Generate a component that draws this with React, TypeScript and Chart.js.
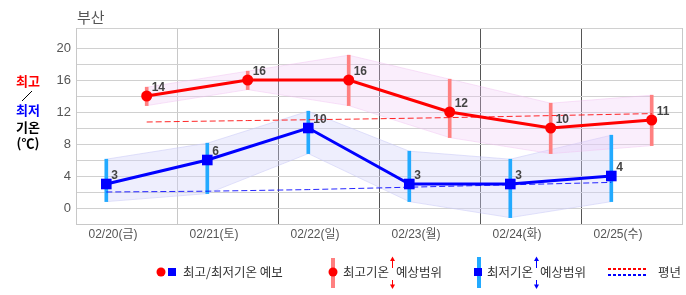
import React, { useEffect, useRef } from 'react';
import { Chart, registerables } from 'chart.js';

Chart.register(...registerables);

// ---- data ----
const dayLabels = ['02/20(금)', '02/21(토)', '02/22(일)', '02/23(월)', '02/24(화)', '02/25(수)'];
const highTemps = [14, 16, 16, 12, 10, 11];
const lowTemps = [3, 6, 10, 3, 3, 4];
const highRangeMax = [15.1, 17.1, 19.1, 16.1, 13.1, 14.1];
const highRangeMin = [12.8, 14.8, 12.8, 8.8, 6.8, 7.8];
const lowRangeMax = [6.1, 8.1, 12.1, 7.1, 6.1, 9.1];
const lowRangeMin = [0.8, 1.8, 6.8, 0.8, -1.2, 0.8];
const highNormal = [10.75, 10.93, 11.1, 11.3, 11.55, 11.8];
const lowNormal = [2.0, 2.1, 2.3, 2.6, 2.9, 3.2];
const yGridValues = [-2, 0, 2, 4, 6, 8, 10, 12, 14, 16, 18, 20, 22.5];
const yLabelValues = [0, 4, 8, 12, 16, 20];
const xGridValues = [0, 1, 2, 3, 4, 5, 6];

const HIGH_POS = 0.7;
const LOW_POS = 0.3;

const LATIN = '"Liberation Sans", "Noto Sans CJK KR", sans-serif';
const KR = '"Noto Sans CJK KR", sans-serif';

const pts = (vals: number[], off: number) => vals.map((v, i) => ({ x: i + off, y: v }));
const rangePts = (lo: number[], hi: number[], off: number) =>
  lo.map((v, i) => ({ x: i + off, y: [v, hi[i]] }));

const decorPlugin = {
  id: 'decor',
  afterDatasetsDraw(chart: any) {
    const ctx = chart.ctx;
    ctx.save();
    ctx.font = 'bold 12px ' + LATIN;
    ctx.fillStyle = '#444';
    ctx.textAlign = 'left';
    ctx.textBaseline = 'alphabetic';
    [0, 1].forEach((di) => {
      const meta = chart.getDatasetMeta(di);
      const vals = di === 0 ? highTemps : lowTemps;
      meta.data.forEach((p: any, i: number) => {
        ctx.fillText(String(vals[i]), p.x + 5, p.y - 5);
      });
    });
    ctx.restore();
  },
  afterDraw(chart: any) {
    const ctx = chart.ctx;
    ctx.save();
    // title
    ctx.font = '15px ' + KR;
    ctx.fillStyle = '#555';
    ctx.textAlign = 'left';
    ctx.textBaseline = 'middle';
    ctx.fillText('부산', 77, 17);

    // left axis caption
    ctx.font = 'bold 13px ' + KR;
    ctx.textAlign = 'center';
    ctx.fillStyle = '#ff0000';
    ctx.fillText('최고', 28, 81);
    ctx.strokeStyle = '#000';
    ctx.lineWidth = 1;
    ctx.beginPath();
    ctx.moveTo(32, 91);
    ctx.lineTo(22, 101);
    ctx.stroke();
    ctx.fillStyle = '#0000ff';
    ctx.fillText('최저', 28, 110);
    ctx.fillStyle = '#000';
    ctx.fillText('기온', 28, 127);
    ctx.fillText('(℃)', 28, 143);

    // legend
    const ly = 272;
    const circle = (x: number, y: number, r: number, c: string) => {
      ctx.fillStyle = c;
      ctx.beginPath();
      ctx.arc(x, y, r, 0, Math.PI * 2);
      ctx.fill();
    };
    const arrow = (x: number, c: string) => {
      ctx.strokeStyle = c;
      ctx.fillStyle = c;
      ctx.lineWidth = 1;
      ctx.beginPath();
      ctx.moveTo(x, 259);
      ctx.lineTo(x, 268);
      ctx.moveTo(x, 280);
      ctx.lineTo(x, 286);
      ctx.stroke();
      ctx.beginPath();
      ctx.moveTo(x - 2.5, 261);
      ctx.lineTo(x + 2.5, 261);
      ctx.lineTo(x, 256.5);
      ctx.closePath();
      ctx.fill();
      ctx.beginPath();
      ctx.moveTo(x - 2.5, 284.5);
      ctx.lineTo(x + 2.5, 284.5);
      ctx.lineTo(x, 289);
      ctx.closePath();
      ctx.fill();
    };
    ctx.font = '12.5px ' + KR;
    ctx.textAlign = 'left';
    ctx.textBaseline = 'middle';

    circle(161, ly, 4.5, '#ff0000');
    ctx.fillStyle = '#0000ff';
    ctx.fillRect(168, 268, 8, 8);
    ctx.fillStyle = '#333';
    ctx.fillText('최고/최저기온 예보', 183, ly);

    ctx.fillStyle = '#ff8080';
    ctx.fillRect(331, 258, 4, 30);
    circle(333, ly, 4.5, '#ff0000');
    ctx.fillStyle = '#333';
    ctx.fillText('최고기온', 343, ly);
    let ax = Math.round(343 + ctx.measureText('최고기온').width + 3) + 0.5;
    arrow(ax, '#ff0000');
    ctx.fillStyle = '#333';
    ctx.fillText('예상범위', ax + 3.5, ly);

    ctx.fillStyle = '#22aaff';
    ctx.fillRect(477, 257, 4, 31);
    ctx.fillStyle = '#0000ff';
    ctx.fillRect(474, 268, 8, 8);
    ctx.fillStyle = '#333';
    ctx.fillText('최저기온', 487, ly);
    ax = Math.round(487 + ctx.measureText('최저기온').width + 3) + 0.5;
    arrow(ax, '#0000ff');
    ctx.fillStyle = '#333';
    ctx.fillText('예상범위', ax + 3.5, ly);

    ctx.lineWidth = 2;
    ctx.setLineDash([3, 2]);
    ctx.strokeStyle = '#ff0000';
    ctx.beginPath();
    ctx.moveTo(608, 269);
    ctx.lineTo(648, 269);
    ctx.stroke();
    ctx.strokeStyle = '#0000ff';
    ctx.beginPath();
    ctx.moveTo(608, 275);
    ctx.lineTo(648, 275);
    ctx.stroke();
    ctx.setLineDash([]);
    ctx.fillStyle = '#333';
    ctx.fillText('평년', 658, ly);
    ctx.restore();
  },
};

export default function App() {
  const ref = useRef<HTMLCanvasElement | null>(null);

  useEffect(() => {
    if (!ref.current) return;
    const chart = new Chart(ref.current, {
      type: 'line',
      data: {
        datasets: [
          {
            type: 'line',
            data: pts(highTemps, HIGH_POS),
            borderColor: '#ff0000',
            backgroundColor: '#ff0000',
            borderWidth: 3,
            pointStyle: 'circle',
            pointRadius: 5.5,
            pointBorderWidth: 0,
            pointBackgroundColor: '#ff0000',
            tension: 0,
            order: 0,
          },
          {
            type: 'line',
            data: pts(lowTemps, LOW_POS),
            borderColor: '#0000ff',
            backgroundColor: '#0000ff',
            borderWidth: 3,
            pointStyle: 'rect',
            pointRadius: 7.5,
            pointBorderWidth: 0,
            pointBackgroundColor: '#0000ff',
            tension: 0,
            order: 0,
          },
          {
            type: 'line',
            data: pts(highNormal, HIGH_POS),
            borderColor: 'rgba(255,0,0,0.85)',
            borderWidth: 1,
            borderDash: [6, 3],
            pointRadius: 0,
            order: 2,
          },
          {
            type: 'line',
            data: pts(lowNormal, LOW_POS),
            borderColor: 'rgba(0,0,255,0.85)',
            borderWidth: 1,
            borderDash: [6, 3],
            pointRadius: 0,
            order: 2,
          },
          {
            type: 'bar',
            data: rangePts(highRangeMin, highRangeMax, HIGH_POS) as any,
            backgroundColor: '#ff8080',
            borderWidth: 0,
            barThickness: 3,
            grouped: false,
            order: 4,
          } as any,
          {
            type: 'bar',
            data: rangePts(lowRangeMin, lowRangeMax, LOW_POS) as any,
            backgroundColor: '#22aaff',
            borderWidth: 0,
            barThickness: 3,
            grouped: false,
            order: 4,
          } as any,
          {
            type: 'line',
            data: pts(highRangeMax, HIGH_POS),
            borderColor: 'rgba(240,190,240,0.45)',
            borderWidth: 1,
            backgroundColor: 'rgba(240,200,245,0.3)',
            fill: '+1',
            pointRadius: 0,
            tension: 0,
            order: 8,
          },
          {
            type: 'line',
            data: pts(highRangeMin, HIGH_POS),
            borderColor: 'rgba(240,190,240,0.45)',
            borderWidth: 1,
            pointRadius: 0,
            tension: 0,
            order: 8,
          },
          {
            type: 'line',
            data: pts(lowRangeMax, LOW_POS),
            borderColor: 'rgba(200,200,245,0.55)',
            borderWidth: 1,
            backgroundColor: 'rgba(210,210,250,0.38)',
            fill: '+1',
            pointRadius: 0,
            tension: 0,
            order: 8,
          },
          {
            type: 'line',
            data: pts(lowRangeMin, LOW_POS),
            borderColor: 'rgba(200,200,245,0.55)',
            borderWidth: 1,
            pointRadius: 0,
            tension: 0,
            order: 8,
          },
        ],
      },
      options: {
        responsive: false,
        animation: false,
        devicePixelRatio: 1,
        events: [],
        layout: { autoPadding: false, padding: { top: 28, right: 4, left: 0, bottom: 0 } },
        plugins: {
          legend: { display: false },
          tooltip: { enabled: false },
          title: { display: false },
        },
        scales: {
          x: {
            type: 'linear',
            min: 0,
            max: 6,
            offset: false,
            afterBuildTicks: (s: any) => {
              s.ticks = xGridValues.map((v) => ({ value: v }));
            },
            afterFit: (s: any) => {
              s.height = 71;
              s.paddingRight = 0;
            },
            grid: {
              offset: false,
              color: (c: any) =>
                c.tick && c.tick.value >= 2 && c.tick.value <= 5 ? '#555' : '#c8c8c8',
              drawTicks: false,
              lineWidth: 1,
            },
            border: { color: '#c8c8c8' },
            ticks: {
              callback: (v: any) => dayLabels[v] ?? '',
              labelOffset: 37,
              padding: 3,
              maxRotation: 0,
              autoSkip: false,
              color: '#555',
              font: { size: 12, family: LATIN },
            },
          },
          y: {
            type: 'linear',
            min: -2,
            max: 22.5,
            afterBuildTicks: (s: any) => {
              s.ticks = yGridValues.map((v) => ({ value: v }));
            },
            afterFit: (s: any) => {
              s.width = 76;
            },
            grid: { offset: false, color: '#d0d0d0', drawTicks: false, lineWidth: 1 },
            border: { color: '#c8c8c8' },
            ticks: {
              callback: (v: any) => (yLabelValues.includes(v) ? String(v) : ''),
              autoSkip: false,
              padding: 5,
              color: '#555',
              font: { size: 13, family: LATIN },
            },
          },
        },
      },
      plugins: [decorPlugin],
    } as any);
    return () => chart.destroy();
  }, []);

  return (
    <div style={{ position: 'fixed', left: 0, top: 0, width: 686, height: 295, background: '#fff' }}>
      <canvas ref={ref} width={686} height={295} style={{ width: 686, height: 295, display: 'block' }} />
    </div>
  );
}
